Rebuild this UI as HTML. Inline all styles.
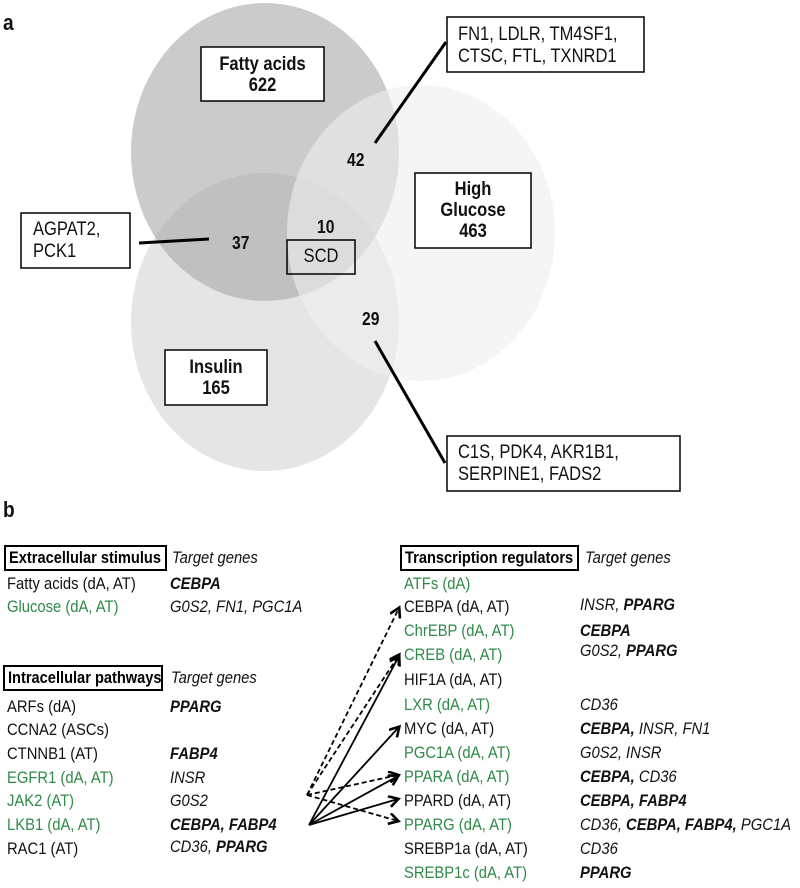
<!DOCTYPE html>
<html><head><meta charset="utf-8">
<style>
body{margin:0;background:#fff;}
.wrap{position:relative;width:800px;height:888px;overflow:hidden;font-family:"Liberation Sans",Arial,sans-serif;}
.t{position:absolute;font-size:17px;line-height:18px;white-space:nowrap;color:#111;transform:scaleX(0.87);transform-origin:0 0;}
.c{transform-origin:50% 0;}
.g{color:#2f8a48;}
.i{font-style:italic;}
.b{font-weight:bold;}
.hdr{position:absolute;border:2.5px solid #000;box-sizing:border-box;height:26px;}
.hdr span{position:absolute;left:3px;top:1px;font-weight:bold;font-size:17px;line-height:20px;white-space:nowrap;transform:scaleX(0.86);transform-origin:0 0;}
</style></head><body><div class="wrap">
<svg width="800" height="888" style="position:absolute;left:0;top:0">
<defs>
<marker id="ah" markerWidth="14" markerHeight="14" refX="10" refY="6" orient="auto" markerUnits="userSpaceOnUse">
<path d="M1,0.5 L10.5,6 L1,11.5" fill="none" stroke="#000" stroke-width="2.6"/>
</marker>
</defs>
<ellipse cx="265" cy="152" rx="134" ry="149" fill="#cbcbcb"/>
<ellipse cx="265" cy="322" rx="134" ry="149" fill="#a8a8a8" fill-opacity="0.3"/>
<ellipse cx="421" cy="233" rx="134" ry="148" fill="#efefef" fill-opacity="0.6"/>
<g fill="#fff" stroke="#000" stroke-width="1.5">
<rect x="201" y="47" width="123" height="54"/>
<rect x="447" y="17" width="197" height="55"/>
<rect x="415" y="173" width="116" height="75"/>
<rect x="21" y="213" width="109" height="55"/>
<rect x="287" y="240" width="68" height="34" fill="none"/>
<rect x="165" y="350" width="102" height="55"/>
<rect x="447" y="436" width="233" height="55"/>
</g>
<g stroke="#000" stroke-width="3">
<line x1="446" y1="42" x2="375" y2="143"/>
<line x1="139" y1="243" x2="209" y2="239"/>
<line x1="375" y1="341" x2="445" y2="463"/>
</g>
<g stroke="#000" stroke-width="1.8" fill="none">
<line x1="307" y1="795" x2="399" y2="608" stroke-dasharray="5,3" marker-end="url(#ah)"/>
<line x1="307" y1="795" x2="399" y2="655" stroke-dasharray="5,3" marker-end="url(#ah)"/>
<line x1="309" y1="825" x2="399" y2="656" marker-end="url(#ah)"/>
<line x1="309" y1="825" x2="399" y2="727" marker-end="url(#ah)"/>
<line x1="307" y1="795" x2="398" y2="775" stroke-dasharray="5,3" marker-end="url(#ah)"/>
<line x1="309" y1="825" x2="398" y2="776" marker-end="url(#ah)"/>
<line x1="309" y1="825" x2="398" y2="799" marker-end="url(#ah)"/>
<line x1="307" y1="795" x2="398" y2="821" stroke-dasharray="5,3" marker-end="url(#ah)"/>
</g>
</svg>
<div class="t b" style="left:3px;top:11px;font-size:22px;line-height:24px">a</div>
<div class="t b c" style="left:201px;top:54px;width:123px;text-align:center;font-size:19px;line-height:21px">Fatty acids<br>622</div>
<div class="t" style="left:458px;top:24px;font-size:19px;line-height:22px">FN1, LDLR, TM4SF1,<br>CTSC, FTL, TXNRD1</div>
<div class="t b c" style="left:415px;top:179px;width:116px;text-align:center;font-size:19px;line-height:21px">High<br>Glucose<br>463</div>
<div class="t" style="left:33px;top:219px;font-size:19px;line-height:22px">AGPAT2,<br>PCK1</div>
<div class="t c" style="left:287px;top:247px;width:68px;text-align:center;font-size:19px;line-height:20px">SCD</div>
<div class="t b c" style="left:165px;top:357px;width:102px;text-align:center;font-size:19px;line-height:21px">Insulin<br>165</div>
<div class="t" style="left:458px;top:442px;font-size:19px;line-height:22px">C1S, PDK4, AKR1B1,<br>SERPINE1, FADS2</div>
<div class="t b" style="left:347px;top:151px;font-size:18px">42</div>
<div class="t b" style="left:317px;top:218px;font-size:18px">10</div>
<div class="t b" style="left:232px;top:234px;font-size:18px">37</div>
<div class="t b" style="left:362px;top:310px;font-size:18px">29</div>
<div class="t b" style="left:3px;top:498px;font-size:22px;line-height:24px">b</div>

<div class="hdr" style="left:4px;top:545px;width:163px"><span>Extracellular stimulus</span></div>
<div class="t i" style="left:172px;top:549px">Target genes</div>
<div class="t" style="left:7px;top:575px">Fatty acids (dA, AT)</div><div class="t i b" style="left:170px;top:575px">CEBPA</div>
<div class="t g" style="left:7px;top:598px">Glucose (dA, AT)</div><div class="t i" style="left:170px;top:598px">G0S2, FN1, PGC1A</div>

<div class="hdr" style="left:3px;top:665px;width:160px"><span>Intracellular pathways</span></div>
<div class="t i" style="left:171px;top:669px">Target genes</div>
<div class="t" style="left:7px;top:698px">ARFs (dA)</div><div class="t i b" style="left:170px;top:698px">PPARG</div>
<div class="t" style="left:7px;top:721px">CCNA2 (ASCs)</div>
<div class="t" style="left:7px;top:745px">CTNNB1 (AT)</div><div class="t i b" style="left:170px;top:745px">FABP4</div>
<div class="t g" style="left:7px;top:769px">EGFR1 (dA, AT)</div><div class="t i" style="left:170px;top:769px">INSR</div>
<div class="t g" style="left:7px;top:792px">JAK2 (AT)</div><div class="t i" style="left:170px;top:792px">G0S2</div>
<div class="t g" style="left:7px;top:816px">LKB1 (dA, AT)</div><div class="t i b" style="left:170px;top:816px">CEBPA, FABP4</div>
<div class="t" style="left:7px;top:840px">RAC1 (AT)</div><div class="t i" style="left:170px;top:838px">CD36, <b>PPARG</b></div>

<div class="hdr" style="left:400px;top:545px;width:179px"><span>Transcription regulators</span></div>
<div class="t i" style="left:585px;top:549px">Target genes</div>
<div class="t g" style="left:404px;top:575px">ATFs (dA)</div>
<div class="t" style="left:404px;top:598px">CEBPA (dA, AT)</div><div class="t i" style="left:580px;top:596px">INSR, <b>PPARG</b></div>
<div class="t g" style="left:404px;top:622px">ChrEBP (dA, AT)</div><div class="t i b" style="left:580px;top:622px">CEBPA</div>
<div class="t g" style="left:404px;top:646px">CREB (dA, AT)</div><div class="t i" style="left:580px;top:642px">G0S2, <b>PPARG</b></div>
<div class="t" style="left:404px;top:671px">HIF1A (dA, AT)</div>
<div class="t g" style="left:404px;top:696px">LXR (dA, AT)</div><div class="t i" style="left:580px;top:696px">CD36</div>
<div class="t" style="left:404px;top:720px">MYC (dA, AT)</div><div class="t i" style="left:580px;top:720px"><b>CEBPA,</b> INSR, FN1</div>
<div class="t g" style="left:404px;top:744px">PGC1A (dA, AT)</div><div class="t i" style="left:580px;top:744px">G0S2, INSR</div>
<div class="t g" style="left:404px;top:768px">PPARA (dA, AT)</div><div class="t i" style="left:580px;top:768px"><b>CEBPA,</b> CD36</div>
<div class="t" style="left:404px;top:792px">PPARD (dA, AT)</div><div class="t i b" style="left:580px;top:792px">CEBPA, FABP4</div>
<div class="t g" style="left:404px;top:816px">PPARG (dA, AT)</div><div class="t i" style="left:580px;top:816px">CD36, <b>CEBPA, FABP4,</b> PGC1A</div>
<div class="t" style="left:404px;top:840px">SREBP1a (dA, AT)</div><div class="t i" style="left:580px;top:840px">CD36</div>
<div class="t g" style="left:404px;top:864px">SREBP1c (dA, AT)</div><div class="t i b" style="left:580px;top:864px">PPARG</div>
</div></body></html>
